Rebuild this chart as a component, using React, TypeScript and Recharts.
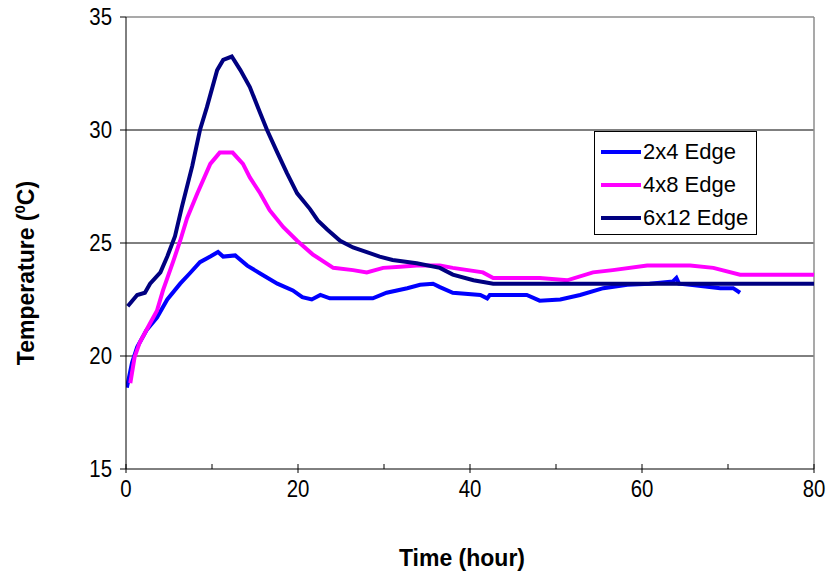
import { LineChart, Line, XAxis, YAxis, ReferenceLine, Legend } from "recharts";

document.body.style.margin = "0";

// hours / temperature readings per specimen
const hours2x4 = [0.1, 0.7, 1.3, 2.4, 3.6, 4.8, 6.3, 7.4, 8.6, 9.8, 10.7, 11.3, 12.7, 14.1, 15.6, 17.6, 19.4, 20.5, 21.6, 22.6, 23.7, 27.2, 28.7, 30.3, 32.7, 34.2, 35.7, 36.5, 38.0, 41.2, 42.0, 42.3, 46.6, 48.1, 50.5, 52.8, 55.5, 58.3, 60.9, 63.6, 64.0, 64.3, 65.6, 69.1, 70.6, 71.4];
const temp2x4 = [18.6, 19.7, 20.4, 21.15, 21.7, 22.5, 23.2, 23.65, 24.15, 24.4, 24.6, 24.4, 24.45, 24.0, 23.65, 23.2, 22.9, 22.6, 22.5, 22.7, 22.55, 22.55, 22.55, 22.8, 23.0, 23.15, 23.2, 23.05, 22.8, 22.7, 22.55, 22.7, 22.7, 22.45, 22.5, 22.7, 23.0, 23.15, 23.2, 23.3, 23.45, 23.2, 23.15, 23.0, 23.0, 22.8];

const hours4x8 = [0.5, 1.0, 1.6, 2.8, 3.6, 4.3, 5.5, 6.3, 7.1, 8.3, 9.8, 10.9, 12.4, 13.6, 14.4, 15.6, 16.7, 18.3, 19.9, 21.7, 24.1, 26.4, 28.0, 29.9, 31.9, 33.8, 36.5, 38.0, 41.5, 42.7, 48.1, 51.3, 54.3, 56.6, 60.6, 65.6, 68.3, 71.4, 80];
const temp4x8 = [18.8, 19.95, 20.6, 21.45, 22.0, 22.9, 24.2, 25.1, 26.1, 27.2, 28.5, 29.0, 29.0, 28.5, 27.9, 27.2, 26.45, 25.7, 25.1, 24.5, 23.9, 23.8, 23.7, 23.9, 23.95, 24.0, 24.0, 23.9, 23.7, 23.45, 23.45, 23.35, 23.7, 23.8, 24.0, 24.0, 23.9, 23.6, 23.6];

const hours6x12 = [0.2, 1.3, 2.2, 2.8, 4.0, 4.8, 5.7, 6.5, 7.7, 8.6, 9.4, 10.6, 11.3, 12.3, 13.3, 14.4, 15.6, 16.4, 17.6, 18.7, 19.9, 21.4, 22.3, 23.4, 24.9, 26.4, 28.0, 29.5, 31.0, 33.8, 36.5, 38.0, 40.4, 42.7, 50, 60, 70, 80];
const temp6x12 = [22.2, 22.7, 22.8, 23.2, 23.7, 24.4, 25.3, 26.6, 28.4, 30.0, 31.0, 32.65, 33.1, 33.25, 32.65, 31.9, 30.75, 30.0, 29.0, 28.1, 27.2, 26.5, 26.0, 25.6, 25.1, 24.8, 24.6, 24.4, 24.25, 24.1, 23.9, 23.6, 23.35, 23.2, 23.2, 23.2, 23.2, 23.2];

const seriesNames = ["2x4 Edge", "4x8 Edge", "6x12 Edge"];
const seriesColors = ["#0000FF", "#FF00FF", "#000080"];

const xTicks = [0, 10, 20, 30, 40, 50, 60, 70, 80];
const yTicks = [15, 20, 25, 30, 35];
const gridTemps = [20, 25, 30];

const toPoints = (h: number[], t: number[]) => h.map((hour, i) => ({ hour, temp: t[i] }));
const series = [
  toPoints(hours2x4, temp2x4),
  toPoints(hours4x8, temp4x8),
  toPoints(hours6x12, temp6x12),
];

const FONT = "Arial, 'Liberation Sans', sans-serif";

function XTick(props: any) {
  const { x, y, payload } = props;
  const major = payload.value % 20 === 0;
  return (
    <g>
      <line x1={x} x2={x} y1={y - 5} y2={major ? y + 4 : y} stroke="#000" />
      {major && (
        <text
          transform={`translate(${x},${y + 28}) scale(0.85,1)`}
          textAnchor="middle"
          fontSize={24}
          fontFamily={FONT}
          fill="#000"
        >
          {payload.value}
        </text>
      )}
    </g>
  );
}

function YTick(props: any) {
  const { x, y, payload } = props;
  return (
    <text
      transform={`translate(${x},${y + 8}) scale(0.85,1)`}
      textAnchor="end"
      fontSize={24}
      fontFamily={FONT}
      fill="#000"
    >
      {payload.value}
    </text>
  );
}

function YLabel() {
  return (
    <text
      x={34}
      y={273}
      transform="rotate(-90, 34, 273)"
      textAnchor="middle"
      fontSize={23}
      fontWeight="bold"
      fontFamily={FONT}
      fill="#000"
    >
      Temperature (
      <tspan fontSize={15} dy={-9}>0</tspan>
      <tspan dy={9}>C)</tspan>
    </text>
  );
}

function XLabel() {
  return (
    <text x={462} y={566} textAnchor="middle" fontSize={23} fontWeight="bold" fontFamily={FONT} fill="#000">
      Time (hour)
    </text>
  );
}

function LegendBox(props: any) {
  const payload = props.payload || [];
  return (
    <div
      style={{
        boxSizing: "border-box",
        width: 163,
        height: 104,
        border: "1px solid #000",
        background: "#fff",
        paddingTop: 3,
        fontFamily: FONT,
        fontSize: 22,
      }}
    >
      {payload.map((p: any) => (
        <div key={p.value} style={{ display: "flex", alignItems: "center", height: 33 }}>
          <div style={{ width: 40, height: 4, background: p.color, marginLeft: 6, marginRight: 2 }} />
          <span style={{ color: "#000", whiteSpace: "nowrap" }}>{p.value}</span>
        </div>
      ))}
    </div>
  );
}

export default function App() {
  return (
    <div style={{ width: 831, height: 575, background: "#fff" }}>
      <LineChart width={831} height={575} margin={{ top: 17, right: 17, left: 0, bottom: 0 }}>
        <XAxis
          dataKey="hour"
          type="number"
          domain={[0, 80]}
          ticks={xTicks}
          interval={0}
          tickSize={0}
          tickMargin={0}
          tick={<XTick />}
          axisLine={{ stroke: "#000" }}
          height={106}
          allowDataOverflow
          label={<XLabel />}
        />
        <YAxis
          type="number"
          domain={[15, 35]}
          ticks={yTicks}
          interval={0}
          tickSize={6}
          tickMargin={8}
          tickLine={{ stroke: "#000" }}
          tick={<YTick />}
          axisLine={{ stroke: "#000" }}
          width={126}
          allowDataOverflow
          label={<YLabel />}
        />
        {gridTemps.map((t) => (
          <ReferenceLine key={t} y={t} stroke="#000" strokeWidth={1} />
        ))}
        <ReferenceLine y={35} stroke="#8c8c8c" strokeWidth={1.5} />
        <ReferenceLine x={80} stroke="#8c8c8c" strokeWidth={1.5} />
        <Legend
          layout="vertical"
          align="center"
          verticalAlign="middle"
          wrapperStyle={{ left: 594, top: 131, width: 163, height: 104 }}
          content={<LegendBox />}
        />
        {series.map((data, i) => (
          <Line
            key={seriesNames[i]}
            data={data}
            dataKey="temp"
            name={seriesNames[i]}
            stroke={seriesColors[i]}
            strokeWidth={4}
            dot={false}
            activeDot={false}
            type="linear"
            isAnimationActive={false}
          />
        ))}
      </LineChart>
    </div>
  );
}
